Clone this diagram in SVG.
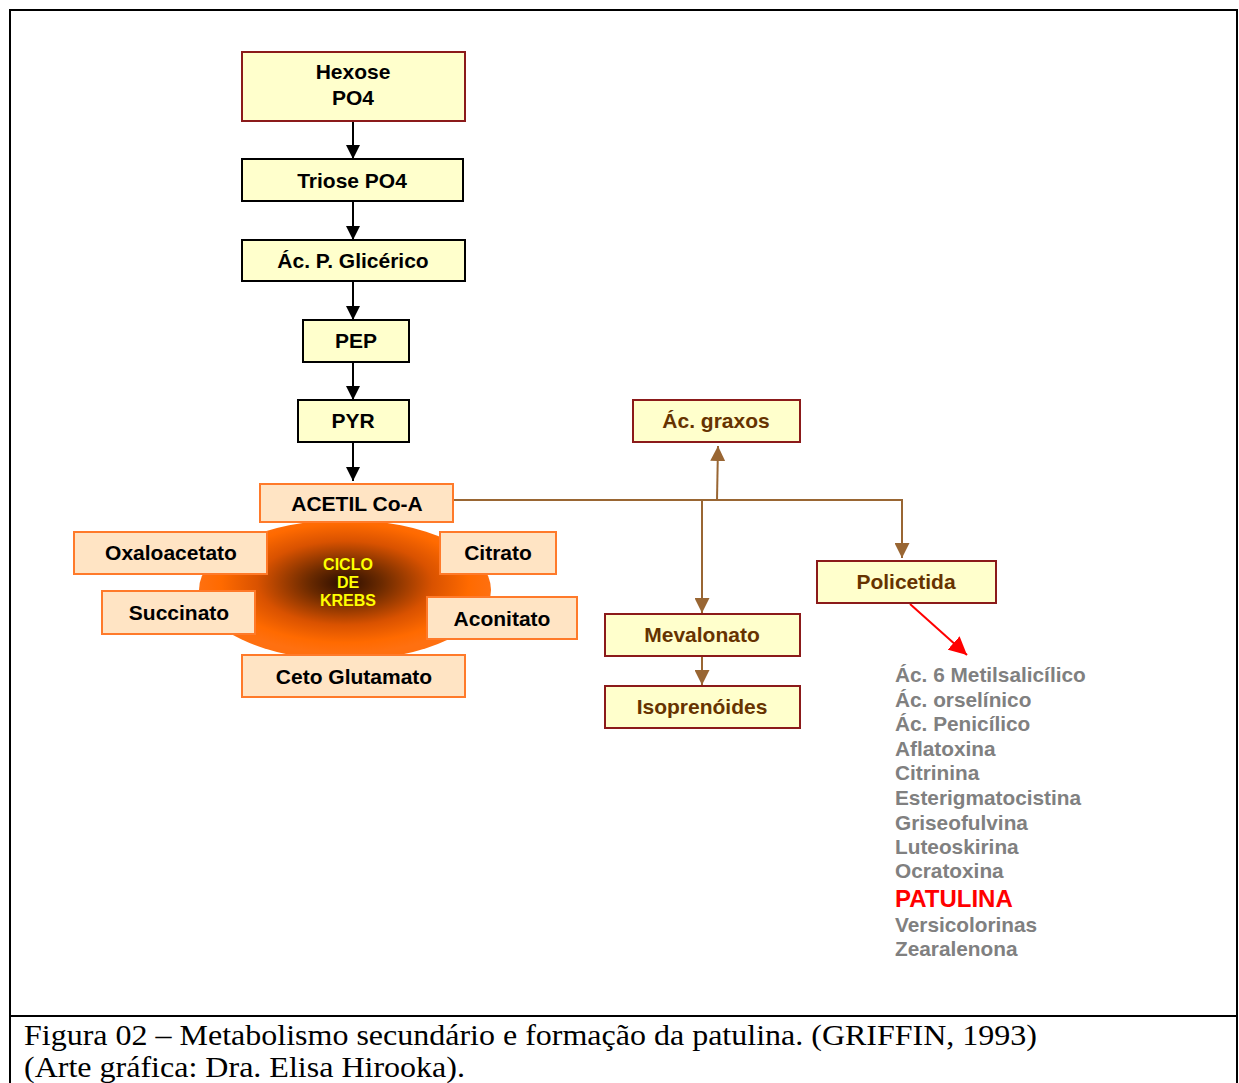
<svg xmlns="http://www.w3.org/2000/svg" width="1239" height="1083" viewBox="0 0 1239 1083">
<defs>
<radialGradient id="krebs" cx="0.5" cy="0.45" r="0.5">
<stop offset="0" stop-color="#2a0d00"/>
<stop offset="0.25" stop-color="#6b2a00"/>
<stop offset="0.6" stop-color="#d95200"/>
<stop offset="0.85" stop-color="#ff6a00"/>
<stop offset="1" stop-color="#ff7010"/>
</radialGradient>
<marker id="ab" viewBox="0 0 10 10" refX="10" refY="5" markerWidth="14" markerHeight="14" markerUnits="userSpaceOnUse" orient="auto"><path d="M0,0 L10,5 L0,10 z" fill="#000"/></marker>
<marker id="abr" viewBox="0 0 10 10" refX="10" refY="5" markerWidth="15" markerHeight="15" markerUnits="userSpaceOnUse" orient="auto"><path d="M0,0 L10,5 L0,10 z" fill="#996633"/></marker>
<marker id="ar" viewBox="0 0 10 10" refX="10" refY="5" markerWidth="18" markerHeight="18" markerUnits="userSpaceOnUse" orient="auto"><path d="M0,0 L10,5 L0,10 z" fill="#ff0000"/></marker>
</defs>
<style>
.t{font-family:"Liberation Sans",Arial,sans-serif;font-weight:bold;font-size:21px;text-anchor:middle;fill:#000}
.tb{font-family:"Liberation Sans",Arial,sans-serif;font-weight:bold;font-size:21px;text-anchor:middle;fill:#663300}
.y{fill:#ffffcc;stroke:#000;stroke-width:2}
.yr{fill:#ffffcc;stroke:#8b1a1a;stroke-width:2}
.o{fill:#ffe4c4;stroke:#ff7a2a;stroke-width:2}
.k{font-family:"Liberation Sans",Arial,sans-serif;font-weight:bold;font-size:16px;text-anchor:middle;fill:#ffff00}
.l{font-family:"Liberation Sans",Arial,sans-serif;font-weight:bold;font-size:20.8px;fill:#808080}
.cb{stroke:#000;stroke-width:2;fill:none}
.cr{stroke:#996633;stroke-width:2;fill:none}
.cap{font-family:"Liberation Serif","Times New Roman",serif;font-size:29px;fill:#000}
</style>
<rect width="1239" height="1083" fill="#fff"/>
<g id="frame" stroke="#000" stroke-width="2" fill="none">
<path d="M10,1083 V10 H1237 V1083"/>
<path d="M10,1016 H1237"/>
</g>
<g id="krebs-cycle">
<ellipse cx="345" cy="590" rx="146" ry="70" fill="url(#krebs)"/>
<text class="k" x="348" y="570">CICLO</text>
<text class="k" x="348" y="588">DE</text>
<text class="k" x="348" y="606">KREBS</text>
</g>
<g id="connectors">
<line class="cb" x1="353" y1="121" x2="353" y2="159" marker-end="url(#ab)"/>
<line class="cb" x1="353" y1="201" x2="353" y2="240" marker-end="url(#ab)"/>
<line class="cb" x1="353" y1="281" x2="353" y2="320" marker-end="url(#ab)"/>
<line class="cb" x1="353" y1="362" x2="353" y2="400" marker-end="url(#ab)"/>
<line class="cb" x1="353" y1="442" x2="353" y2="481" marker-end="url(#ab)"/>
<path class="cr" d="M453,500 H902 V558" marker-end="url(#abr)"/>
<path class="cr" d="M702,500 V613" marker-end="url(#abr)"/>
<path class="cr" d="M717,500 L718,446" marker-end="url(#abr)"/>
<path class="cr" d="M702,656 V685" marker-end="url(#abr)"/>
<line x1="910" y1="604" x2="967" y2="655" stroke="#ff0000" stroke-width="2" marker-end="url(#ar)"/>
</g>
<g id="hexose"><rect class="yr" x="242" y="52" width="223" height="69"/><text class="t" x="353" y="79">Hexose</text><text class="t" x="353" y="105">PO4</text></g>
<g id="triose"><rect class="y" x="242" y="159" width="221" height="42"/><text class="t" x="352" y="188">Triose PO4</text></g>
<g id="glicerico"><rect class="y" x="242" y="240" width="223" height="41"/><text class="t" x="353" y="268">Ác. P. Glicérico</text></g>
<g id="pep"><rect class="y" x="303" y="320" width="106" height="42"/><text class="t" x="356" y="348">PEP</text></g>
<g id="pyr"><rect class="y" x="298" y="400" width="111" height="42"/><text class="t" x="353" y="428">PYR</text></g>
<g id="acetil"><rect class="o" x="260" y="484" width="193" height="38"/><text class="t" x="357" y="511">ACETIL Co-A</text></g>
<g id="oxaloacetato"><rect class="o" x="74" y="532" width="193" height="42"/><text class="t" x="171" y="560">Oxaloacetato</text></g>
<g id="citrato"><rect class="o" x="440" y="532" width="116" height="42"/><text class="t" x="498" y="560">Citrato</text></g>
<g id="succinato"><rect class="o" x="102" y="591" width="153" height="43"/><text class="t" x="179" y="620">Succinato</text></g>
<g id="aconitato"><rect class="o" x="427" y="597" width="150" height="42"/><text class="t" x="502" y="626">Aconitato</text></g>
<g id="ceto"><rect class="o" x="242" y="655" width="223" height="42"/><text class="t" x="354" y="684">Ceto Glutamato</text></g>
<g id="graxos"><rect class="yr" x="633" y="400" width="167" height="42"/><text class="tb" x="716" y="428">Ác. graxos</text></g>
<g id="mevalonato"><rect class="yr" x="605" y="614" width="195" height="42"/><text class="tb" x="702" y="642">Mevalonato</text></g>
<g id="isoprenoides"><rect class="yr" x="605" y="686" width="195" height="42"/><text class="tb" x="702" y="714">Isoprenóides</text></g>
<g id="policetida"><rect class="yr" x="817" y="561" width="179" height="42"/><text class="tb" x="906" y="589">Policetida</text></g>
<g id="list">
<text class="l" x="895" y="682">Ác. 6 Metilsalicílico</text>
<text class="l" x="895" y="707">Ác. orselínico</text>
<text class="l" x="895" y="731">Ác. Penicílico</text>
<text class="l" x="895" y="756">Aflatoxina</text>
<text class="l" x="895" y="780">Citrinina</text>
<text class="l" x="895" y="805">Esterigmatocistina</text>
<text class="l" x="895" y="830">Griseofulvina</text>
<text class="l" x="895" y="854">Luteoskirina</text>
<text class="l" x="895" y="878">Ocratoxina</text>
<text class="l" x="895" y="907" style="fill:#ff0000;font-size:24px">PATULINA</text>
<text class="l" x="895" y="932">Versicolorinas</text>
<text class="l" x="895" y="956">Zearalenona</text>
</g>
<g id="caption">
<text class="cap" x="24" y="1045" textLength="1013" lengthAdjust="spacingAndGlyphs">Figura 02 – Metabolismo secundário e formação da patulina. (GRIFFIN, 1993)</text>
<text class="cap" x="24" y="1077" textLength="441" lengthAdjust="spacingAndGlyphs">(Arte gráfica: Dra. Elisa Hirooka).</text>
</g>
</svg>
